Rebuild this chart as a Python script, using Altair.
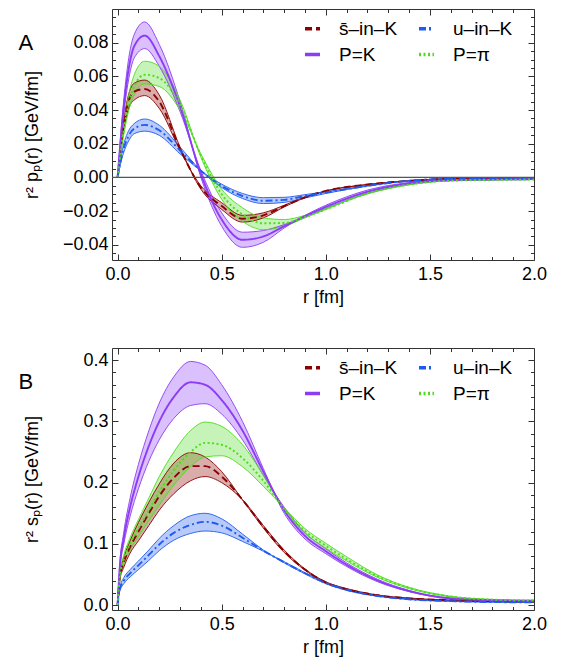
import altair as alt
import pandas as pd

# legend order (column-major, 2 rows): s̄-in-K, P=K | u-in-K, P=π
SERIES = ["s̄–in–K", "P=K", "u–in–K", "P=π"]
BAND_KEYS = ["band_s", "band_K", "band_u", "band_pi"]
COLORS = ["#8B0000", "#8C3CF5", "#1F5BF0", "#4FDB1E"]
DASHES = [[7, 4], [1, 0], [7, 3, 2, 3], [2, 2.5]]

# ---------------- Panel A : r^2 p_P(r) ----------------
rA = [0, 0.02, 0.05, 0.08, 0.13, 0.2, 0.3, 0.4, 0.5, 0.6, 0.7, 0.8, 0.9, 1.0, 1.2, 1.4, 1.6, 2.0]

A_s_mid = [0, 0.023, 0.044, 0.051, 0.0525, 0.045, 0.017, -0.006, -0.017, -0.0245, -0.0225, -0.017, -0.0118, -0.008, -0.0042, -0.002, -0.0008, -0.0003]
A_s_hi = [0, 0.025, 0.048, 0.056, 0.0578, 0.049, 0.018, -0.007, -0.019, -0.0265, -0.024, -0.0175, -0.012, -0.008, -0.0042, -0.002, -0.0008, -0.0003]
A_s_lo = [0, 0.021, 0.040, 0.046, 0.0486, 0.041, 0.016, -0.005, -0.015, -0.0225, -0.021, -0.0165, -0.0115, -0.008, -0.0042, -0.002, -0.0008, -0.0003]

A_u_mid = [0, 0.013, 0.024, 0.029, 0.0312, 0.028, 0.016, 0.004, -0.005, -0.011, -0.0138, -0.0133, -0.011, -0.009, -0.005, -0.002, -0.0008, -0.0003]
A_u_hi = [0, 0.015, 0.027, 0.032, 0.0347, 0.031, 0.018, 0.004, -0.006, -0.0125, -0.0155, -0.0148, -0.0122, -0.0095, -0.0052, -0.0021, -0.0009, -0.0003]
A_u_lo = [0, 0.011, 0.021, 0.026, 0.0275, 0.025, 0.014, 0.004, -0.004, -0.0095, -0.012, -0.0118, -0.0102, -0.0085, -0.0048, -0.0019, -0.0008, -0.0003]

A_K_mid = [0, 0.030, 0.062, 0.078, 0.0842, 0.072, 0.042, 0.002, -0.025, -0.037, -0.035, -0.029, -0.023, -0.0175, -0.0085, -0.0035, -0.0016, -0.001]
A_K_hi = [0, 0.033, 0.068, 0.085, 0.0923, 0.079, 0.045, 0.000, -0.029, -0.0415, -0.0385, -0.030, -0.0225, -0.0165, -0.0075, -0.003, -0.0013, -0.0008]
A_K_lo = [0, 0.027, 0.056, 0.071, 0.0765, 0.066, 0.039, 0.004, -0.021, -0.0325, -0.0315, -0.028, -0.0235, -0.0185, -0.0095, -0.0042, -0.0019, -0.0012]

A_pi_mid = [0, 0.020, 0.042, 0.054, 0.061, 0.059, 0.043, 0.013, -0.010, -0.022, -0.0272, -0.027, -0.0235, -0.019, -0.0095, -0.0042, -0.0019, -0.0012]
A_pi_hi = [0, 0.022, 0.047, 0.061, 0.069, 0.066, 0.046, 0.012, -0.013, -0.026, -0.031, -0.029, -0.024, -0.019, -0.009, -0.004, -0.0018, -0.0011]
A_pi_lo = [0, 0.018, 0.038, 0.049, 0.0555, 0.054, 0.040, 0.014, -0.007, -0.018, -0.024, -0.025, -0.0225, -0.0185, -0.0098, -0.0044, -0.002, -0.0013]

# ---------------- Panel B : r^2 s_P(r) ----------------
rB = [0, 0.01, 0.03, 0.06, 0.1, 0.15, 0.2, 0.27, 0.35, 0.42, 0.5, 0.6, 0.7, 0.8, 0.9, 1.0, 1.1, 1.25, 1.4, 1.6, 1.8, 2.0]

B_s_mid = [0, 0.045, 0.07, 0.095, 0.12, 0.15, 0.178, 0.208, 0.227, 0.227, 0.21, 0.172, 0.128, 0.088, 0.058, 0.037, 0.026, 0.016, 0.011, 0.008, 0.0065, 0.006]
B_s_hi = [0, 0.05, 0.078, 0.105, 0.135, 0.168, 0.198, 0.232, 0.249, 0.242, 0.218, 0.172, 0.126, 0.086, 0.057, 0.036, 0.025, 0.0155, 0.0105, 0.0078, 0.0063, 0.0058]
B_s_lo = [0, 0.04, 0.062, 0.085, 0.105, 0.13, 0.155, 0.182, 0.203, 0.21, 0.20, 0.172, 0.130, 0.090, 0.059, 0.038, 0.027, 0.0165, 0.0115, 0.0082, 0.0068, 0.0062]

B_u_mid = [0, 0.025, 0.04, 0.052, 0.065, 0.082, 0.099, 0.118, 0.131, 0.136, 0.130, 0.110, 0.089, 0.070, 0.052, 0.036, 0.025, 0.0148, 0.0095, 0.0065, 0.005, 0.0045]
B_u_hi = [0, 0.028, 0.045, 0.058, 0.072, 0.09, 0.109, 0.13, 0.146, 0.150, 0.141, 0.116, 0.090, 0.069, 0.051, 0.035, 0.024, 0.0143, 0.009, 0.006, 0.0047, 0.0042]
B_u_lo = [0, 0.022, 0.035, 0.046, 0.058, 0.073, 0.089, 0.106, 0.117, 0.121, 0.118, 0.104, 0.088, 0.071, 0.053, 0.037, 0.026, 0.0153, 0.010, 0.007, 0.0053, 0.0048]

B_K_mid = [0, 0.06, 0.11, 0.16, 0.21, 0.26, 0.30, 0.34, 0.364, 0.360, 0.335, 0.285, 0.218, 0.155, 0.113, 0.088, 0.066, 0.040, 0.023, 0.011, 0.008, 0.007]
B_K_hi = [0, 0.065, 0.12, 0.175, 0.23, 0.285, 0.33, 0.373, 0.398, 0.392, 0.360, 0.300, 0.223, 0.150, 0.108, 0.084, 0.063, 0.038, 0.022, 0.0105, 0.0078, 0.0072]
B_K_lo = [0, 0.055, 0.10, 0.145, 0.19, 0.235, 0.27, 0.305, 0.326, 0.329, 0.312, 0.270, 0.212, 0.160, 0.118, 0.092, 0.069, 0.042, 0.024, 0.0115, 0.0082, 0.0068]

B_pi_mid = [0, 0.045, 0.075, 0.10, 0.125, 0.155, 0.185, 0.22, 0.25, 0.265, 0.262, 0.240, 0.203, 0.157, 0.121, 0.097, 0.075, 0.047, 0.028, 0.014, 0.009, 0.0075]
B_pi_hi = [0, 0.05, 0.082, 0.11, 0.14, 0.175, 0.21, 0.25, 0.285, 0.299, 0.292, 0.262, 0.212, 0.155, 0.117, 0.093, 0.072, 0.045, 0.027, 0.0135, 0.0087, 0.0072]
B_pi_lo = [0, 0.04, 0.068, 0.09, 0.112, 0.138, 0.163, 0.196, 0.226, 0.242, 0.244, 0.226, 0.194, 0.159, 0.125, 0.101, 0.079, 0.049, 0.029, 0.0145, 0.0093, 0.0078]

X_DOMAIN = [-0.027, 2.0]
X_MAJOR = [0, 0.5, 1.0, 1.5, 2.0]
X_MINOR = [round(0.1 * i, 2) for i in range(1, 20) if i % 5 != 0]

FONT = "Liberation Sans"
W = 422


def build_frames(r, groups):
    band, edges, mids = [], [], []
    for name, key, (mid, hi, lo) in zip(SERIES, BAND_KEYS, groups):
        for i, rv in enumerate(r):
            band.append({"r": rv, "key": key, "lo": lo[i], "hi": hi[i]})
            edges.append({"r": rv, "key": key, "edge": "hi", "v": hi[i]})
            edges.append({"r": rv, "key": key, "edge": "lo", "v": lo[i]})
            mids.append({"r": rv, "series": name, "v": mid[i]})
    return pd.DataFrame(band), pd.DataFrame(edges), pd.DataFrame(mids)


def panel(r, groups, ydom, ymaj, ymin, yfmt, ytitle, H, label, zero_line):
    band, edges, mids = build_frames(r, groups)
    xs = alt.Scale(domain=X_DOMAIN, nice=False, zero=False)
    ys = alt.Scale(domain=ydom, nice=False, zero=False)
    cs = alt.Scale(domain=SERIES, range=COLORS)
    bs = alt.Scale(domain=BAND_KEYS, range=COLORS)
    ds = alt.Scale(domain=SERIES, range=DASHES)
    leg = alt.Legend(
        title=None, orient="none", legendX=191, legendY=10, columns=2,
        symbolType="stroke", symbolSize=225, symbolStrokeWidth=3.5,
        labelFontSize=19, labelFont=FONT, labelColor="black", labelOffset=17,
        columnPadding=14, rowPadding=6,
    )

    x_lab = alt.Axis(values=X_MAJOR, format=".1f", ticks=False, domain=False, grid=False,
                     labelFlush=False, labelPadding=5, title="r [fm]", titlePadding=5)
    y_lab = alt.Axis(values=ymaj, format=yfmt, ticks=False, domain=False, grid=False,
                     labelFlush=False, labelPadding=4, title=ytitle,
                     titleX=-71, titleY=H / 2)

    area = alt.Chart(band).mark_area(opacity=0.32, interpolate="monotone").encode(
        x=alt.X("r:Q", scale=xs, axis=x_lab),
        y=alt.Y("lo:Q", scale=ys, axis=y_lab),
        y2="hi:Q",
        fill=alt.Fill("key:N", scale=bs, legend=None),
    )
    edge = alt.Chart(edges).mark_line(strokeWidth=0.9, interpolate="monotone").encode(
        x=alt.X("r:Q", scale=xs, axis=None),
        y=alt.Y("v:Q", scale=ys, axis=None),
        stroke=alt.Stroke("key:N", scale=bs, legend=None),
        detail="edge:N",
    )
    mid = alt.Chart(mids).mark_line(strokeWidth=1.9, interpolate="monotone").encode(
        x=alt.X("r:Q", scale=xs, axis=None),
        y=alt.Y("v:Q", scale=ys, axis=None),
        color=alt.Color("series:N", scale=cs, legend=leg),
        strokeDash=alt.StrokeDash("series:N", scale=ds, legend=leg),
    )

    tick_df = pd.DataFrame({"r": [0.0], "v": [0.0]})

    def tick_layer(xorient, yorient, xvals, yvals, size, ytitle_text=None):
        xa = alt.Axis(orient=xorient, offset=-H, values=xvals, labels=False, domain=False,
                      grid=False, ticks=True, tickSize=size, tickColor="#333", tickWidth=1,
                      title=None)
        if ytitle_text:
            ya = alt.Axis(orient=yorient, offset=-W, values=yvals, labels=False, domain=False,
                          grid=False, ticks=True, tickSize=size, tickColor="#333", tickWidth=1,
                          title=ytitle_text, titleX=-W - 94, titleY=40, titleAngle=0,
                          titleAlign="left", titleBaseline="alphabetic", titleFontSize=22)
        else:
            ya = alt.Axis(orient=yorient, offset=-W, values=yvals, labels=False, domain=False,
                          grid=False, ticks=True, tickSize=size, tickColor="#333", tickWidth=1,
                          title=None)
        return alt.Chart(tick_df).mark_point(opacity=0).encode(
            x=alt.X("r:Q", scale=xs, axis=xa),
            y=alt.Y("v:Q", scale=ys, axis=ya),
        )

    layers = [area, edge, mid]
    if zero_line:
        zdf = pd.DataFrame({"z": [0.0]})
        layers.append(alt.Chart(zdf).mark_rule(color="#555", strokeWidth=1.3).encode(
            y=alt.Y("z:Q", scale=ys, axis=None)))
    layers += [
        tick_layer("top", "right", X_MAJOR, ymaj, 6),
        tick_layer("bottom", "left", X_MAJOR, ymaj, 6, label),
        tick_layer("top", "right", X_MINOR, ymin, 3.5),
        tick_layer("bottom", "left", X_MINOR, ymin, 3.5),
    ]
    return alt.layer(*layers).resolve_axis(x="independent", y="independent").properties(
        width=W, height=H,
    )


A_major = [-0.04, -0.02, 0.0, 0.02, 0.04, 0.06, 0.08]
A_minor = [round(-0.045 + 0.005 * i, 3) for i in range(29) if round(-0.045 + 0.005 * i, 3) not in A_major]
B_major = [0.0, 0.1, 0.2, 0.3, 0.4]
B_minor = [round(0.02 * i, 2) for i in range(21) if i % 5 != 0]

pA = panel(rA,
           [(A_s_mid, A_s_hi, A_s_lo), (A_K_mid, A_K_hi, A_K_lo),
            (A_u_mid, A_u_hi, A_u_lo), (A_pi_mid, A_pi_hi, A_pi_lo)],
           [-0.049, 0.100], A_major, A_minor, ".2f", "r² pₚ(r) [GeV/fm]", 251, "A", True)
pB = panel(rB,
           [(B_s_mid, B_s_hi, B_s_lo), (B_K_mid, B_K_hi, B_K_lo),
            (B_u_mid, B_u_hi, B_u_lo), (B_pi_mid, B_pi_hi, B_pi_lo)],
           [-0.008, 0.42], B_major, B_minor, ".1f", "r² sₚ(r) [GeV/fm]", 262, "B", False)

chart = alt.vconcat(pA, pB, spacing=40).resolve_scale(
    color="independent", strokeDash="independent", fill="independent", stroke="independent",
    x="independent", y="independent"
).properties(
    padding={"left": 9, "top": 0, "right": 5, "bottom": 5}
).configure_view(stroke="#333", strokeWidth=1).configure_axis(
    labelFont=FONT, titleFont=FONT, labelFontSize=18, titleFontSize=18,
    titleFontWeight="normal", labelColor="black", titleColor="black",
)

chart.save("out.html", embed_options={"renderer": "svg", "actions": False})
